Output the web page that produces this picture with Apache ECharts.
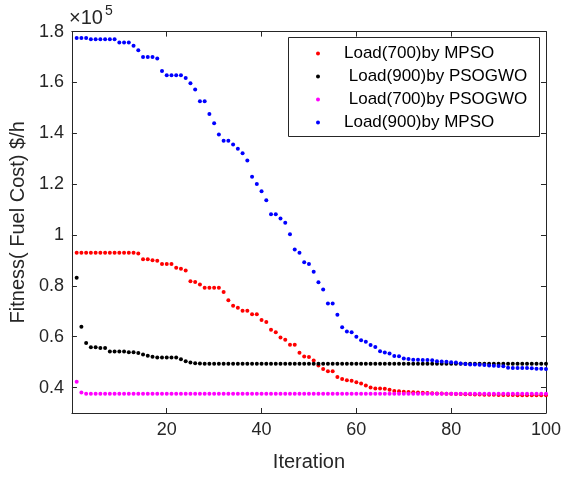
<!DOCTYPE html>
<html>
<head>
<meta charset="utf-8">
<script src="https://cdn.jsdelivr.net/npm/echarts@6/dist/echarts.min.js"></script>
<style>html,body{margin:0;padding:0;background:#fff;}#c{width:564px;height:477px;}</style>
</head>
<body>
<div id="c"></div>
<script>
// Values in units of 1e5 $/h
const seriesNames = ['Load(700)by MPSO', ' Load(900)by PSOGWO', ' Load(700)by PSOGWO', 'Load(900)by MPSO'];
const seriesColors = ['#ff0000', '#000000', '#ff00ff', '#0000ff'];

const load700MPSO = [
  0.930,0.930,0.930,0.930,0.930,0.930,0.930,0.930,0.930,0.930,
  0.930,0.930,0.930,0.927,0.905,0.905,0.901,0.899,0.886,0.886,
  0.886,0.871,0.867,0.860,0.818,0.815,0.805,0.793,0.793,0.793,
  0.793,0.776,0.743,0.722,0.714,0.702,0.702,0.688,0.688,0.666,
  0.658,0.627,0.618,0.597,0.588,0.568,0.568,0.537,0.522,0.520,
  0.506,0.487,0.473,0.464,0.464,0.442,0.434,0.429,0.427,0.421,
  0.416,0.408,0.400,0.396,0.396,0.395,0.391,0.387,0.386,0.384,
  0.383,0.382,0.381,0.380,0.379,0.378,0.377,0.377,0.376,0.376,
  0.375,0.375,0.374,0.374,0.373,0.373,0.372,0.372,0.372,0.371,
  0.371,0.371,0.371,0.370,0.370,0.370,0.370,0.370,0.370,0.370
];
const load900PSOGWO = [
  0.832,0.639,0.575,0.559,0.559,0.556,0.556,0.542,0.542,0.542,
  0.542,0.539,0.539,0.536,0.530,0.525,0.521,0.518,0.518,0.518,
  0.518,0.518,0.511,0.504,0.499,0.496,0.495,0.494,0.494,0.494,
  0.494,0.494,0.494,0.494,0.494,0.494,0.494,0.494,0.494,0.494,
  0.494,0.494,0.494,0.494,0.494,0.494,0.494,0.494,0.494,0.494,
  0.494,0.494,0.494,0.494,0.494,0.494,0.494,0.494,0.494,0.494,
  0.494,0.494,0.494,0.494,0.494,0.494,0.494,0.494,0.494,0.494,
  0.494,0.494,0.494,0.494,0.494,0.494,0.494,0.494,0.494,0.494,
  0.494,0.494,0.494,0.494,0.494,0.494,0.494,0.494,0.494,0.494,
  0.494,0.494,0.494,0.494,0.494,0.494,0.494,0.494,0.494,0.494
];
const load700PSOGWO = [
  0.423,0.381,0.376,0.376,0.376,0.376,0.376,0.376,0.376,0.376,
  0.376,0.376,0.376,0.376,0.376,0.376,0.376,0.376,0.376,0.376,
  0.376,0.376,0.376,0.376,0.376,0.376,0.376,0.376,0.376,0.376,
  0.376,0.376,0.376,0.376,0.376,0.376,0.376,0.376,0.376,0.376,
  0.376,0.376,0.376,0.376,0.376,0.376,0.376,0.376,0.376,0.376,
  0.376,0.376,0.376,0.376,0.376,0.376,0.376,0.376,0.376,0.376,
  0.376,0.376,0.376,0.376,0.376,0.376,0.376,0.376,0.376,0.376,
  0.376,0.376,0.376,0.376,0.376,0.376,0.376,0.376,0.376,0.376,
  0.376,0.376,0.376,0.376,0.376,0.376,0.376,0.376,0.376,0.376,
  0.376,0.376,0.376,0.376,0.376,0.376,0.376,0.376,0.376,0.376
];
const load900MPSO = [
  1.775,1.775,1.775,1.770,1.770,1.770,1.770,1.770,1.770,1.757,
  1.757,1.757,1.744,1.727,1.700,1.700,1.700,1.694,1.645,1.628,
  1.628,1.628,1.628,1.618,1.597,1.572,1.526,1.526,1.476,1.440,
  1.395,1.371,1.371,1.356,1.339,1.322,1.293,1.229,1.201,1.172,
  1.137,1.082,1.082,1.065,1.048,1.003,0.943,0.930,0.893,0.886,
  0.856,0.814,0.786,0.731,0.731,0.686,0.637,0.621,0.618,0.600,
  0.586,0.580,0.567,0.560,0.543,0.538,0.534,0.524,0.523,0.514,
  0.512,0.509,0.509,0.508,0.508,0.507,0.504,0.503,0.502,0.500,
  0.499,0.495,0.493,0.491,0.491,0.490,0.489,0.487,0.486,0.485,
  0.484,0.478,0.477,0.477,0.477,0.477,0.476,0.474,0.474,0.473
];
const xTicks = [20, 40, 60, 80, 100];
const yTicks = [0.4, 0.6, 0.8, 1.0, 1.2, 1.4, 1.6, 1.8];

const allSeries = [load700MPSO, load900PSOGWO, load700PSOGWO, load900MPSO];

const FONT = "'Liberation Sans', Arial, Helvetica, sans-serif";
const AX = '#262626';

const chart = echarts.init(document.getElementById('c'), null, {renderer: 'canvas'});

function pairs(arr) { return arr.map((v, i) => [i + 1, v]); }

const baseX = {
  type: 'value', min: 0, max: 100,
  axisLine: {show: true, onZero: false, lineStyle: {color: AX, width: 1}},
  axisTick: {show: true, inside: true, length: 5, customValues: xTicks, lineStyle: {color: AX}},
  splitLine: {show: false}
};
const baseY = {
  type: 'value', min: 0.3, max: 1.8,
  axisLine: {show: true, onZero: false, lineStyle: {color: AX, width: 1}},
  axisTick: {show: true, inside: true, length: 5, customValues: yTicks, lineStyle: {color: AX}},
  splitLine: {show: false}
};

chart.setOption({
  animation: false,
  backgroundColor: '#ffffff',
  grid: {left: 67, right: 14.5, top: 31.6, bottom: 61.3, containLabel: false},
  xAxis: [
    Object.assign({}, baseX, {
      position: 'bottom',
      axisLabel: {show: true, customValues: xTicks, margin: 8, color: AX, fontSize: 18, fontFamily: FONT},
      name: 'Iteration', nameLocation: 'middle', nameGap: 39,
      nameTextStyle: {color: AX, fontSize: 20, fontFamily: FONT}
    }),
    Object.assign({}, baseX, {position: 'top', axisLabel: {show: false}})
  ],
  yAxis: [
    Object.assign({}, baseY, {
      position: 'left',
      axisLabel: {show: true, customValues: yTicks, margin: 8, color: AX, fontSize: 18, fontFamily: FONT,
        formatter: v => String(parseFloat(v.toFixed(1)))},
      name: 'Fitness( Fuel Cost) $/h', nameLocation: 'middle', nameGap: 37,
      nameTextStyle: {color: AX, fontSize: 20, fontFamily: FONT}
    }),
    Object.assign({}, baseY, {position: 'right', axisLabel: {show: false}})
  ],
  legend: {
    orient: 'vertical', left: 316, top: 45,
    padding: 0, itemGap: 6, itemWidth: 42, itemHeight: 4,
    data: seriesNames.map(n => ({name: n, icon: 'circle', itemStyle: {opacity: 1}})),
    textStyle: {color: '#000', fontSize: 17, fontFamily: FONT}
  },
  graphic: [
    {type: 'rect', left: 288, top: 37, shape: {width: 251, height: 99},
     style: {fill: '#fff', stroke: '#262626', lineWidth: 1}, z: -1, silent: true},
    {type: 'text', left: 69, top: 8,
     style: {text: '×10', fill: AX, font: '20px ' + FONT}},
    {type: 'text', left: 105, top: 4,
     style: {text: '5', fill: AX, font: '14px ' + FONT}}
  ],
  series: allSeries.map((arr, k) => ({
    name: seriesNames[k], type: 'scatter', data: pairs(arr),
    symbol: 'circle', symbolSize: 4,
    itemStyle: {color: seriesColors[k], opacity: 1},
    xAxisIndex: 0, yAxisIndex: 0
  }))
});
</script>
</body>
</html>
